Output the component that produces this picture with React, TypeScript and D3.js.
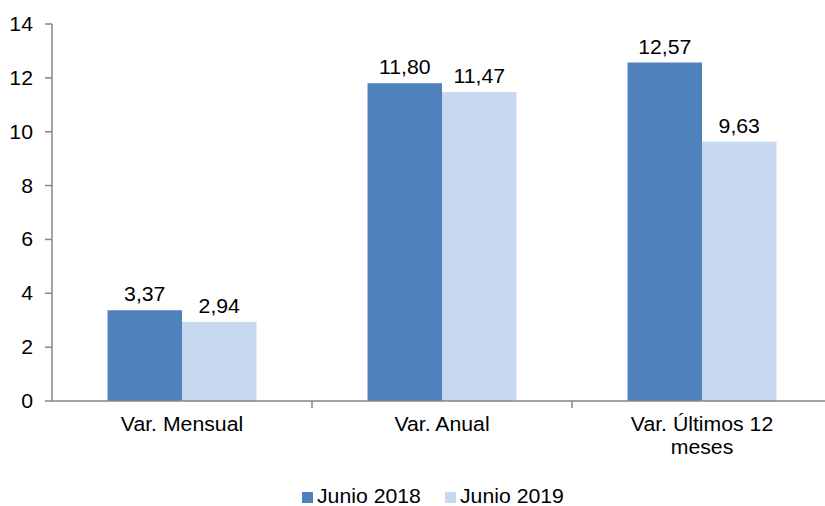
import React from 'react';
import * as d3 from 'd3';

// data
const categories = ['Var. Mensual', 'Var. Anual', 'Var. Últimos 12 meses'];
const categoryLines = [['Var. Mensual'], ['Var. Anual'], ['Var. Últimos 12', 'meses']];
const series = ['Junio 2018', 'Junio 2019'];
const junio2018 = [3.37, 11.8, 12.57];
const junio2019 = [2.94, 11.47, 9.63];
const yTicks = [0, 2, 4, 6, 8, 10, 12, 14];
const colors = ['#4F81BD', '#C6D9F1'];

const W = 825, H = 506;
const margin = { top: 24, left: 52, bottom: 105 };
const font = 'Liberation Sans, Arial, sans-serif';
const FS = 19.5;

// text slightly stretched horizontally like the original export
const T = ({ x, y, anchor = 'middle', children }: any) => (
  <text transform={`translate(${x},${y}) scale(1.09,1)`} textAnchor={anchor} fontSize={FS} fill="#000">{children}</text>
);

const App = () => {
  const x = d3.scaleBand().domain(categories).range([margin.left, margin.left + 780]).paddingInner(0).paddingOuter(0);
  const y = d3.scaleLinear().domain([0, 14]).range([H - margin.bottom, margin.top]);
  const xs = d3.scaleBand().domain(series).range([0, x.bandwidth()]).paddingInner(0).paddingOuter(0.745);
  const values = [junio2018, junio2019];
  const fmt = (v: number) => v.toFixed(2).replace('.', ',');
  const axisColor = '#868686';

  return (
    <svg width={W} height={H} style={{ position: 'absolute', left: 0, top: 0 }} fontFamily={font}>
      <rect width={W} height={H} fill="#fff" />
      {/* bars */}
      {series.map((s, si) =>
        categories.map((c, ci) => {
          const v = values[si][ci];
          const bx = (x(c) as number) + (xs(s) as number);
          return (
            <g key={s + c}>
              <rect x={bx} y={y(v)} width={xs.bandwidth()} height={y(0) - y(v)} fill={colors[si]} />
              <T x={bx + xs.bandwidth() / 2} y={y(v) - 9}>{fmt(v)}</T>
            </g>
          );
        })
      )}
      {/* y axis */}
      <line x1={margin.left} x2={margin.left} y1={y(14)} y2={y(0)} stroke={axisColor} strokeWidth={1.5} />
      {yTicks.map(t => (
        <g key={t}>
          <line x1={margin.left - 7} x2={margin.left} y1={y(t)} y2={y(t)} stroke={axisColor} strokeWidth={1.5} />
          <T x={33} y={y(t) + 7} anchor="end">{t}</T>
        </g>
      ))}
      {/* x axis */}
      <line x1={margin.left} x2={W} y1={y(0)} y2={y(0)} stroke={axisColor} strokeWidth={1.5} />
      {categories.map((c, i) => (
        <g key={c}>
          {i > 0 && <line x1={x(c)} x2={x(c)} y1={y(0)} y2={y(0) + 7} stroke={axisColor} strokeWidth={1.5} />}
          {categoryLines[i].map((ln, li) => (
            <T key={ln} x={(x(c) as number) + x.bandwidth() / 2} y={431 + li * 23}>{ln}</T>
          ))}
        </g>
      ))}
      {/* legend */}
      {series.map((s, i) => {
        const lx = 302 + i * 143;
        return (
          <g key={s}>
            <rect x={lx} y={492} width={11} height={11} fill={colors[i]} />
            <T x={lx + 15} y={503} anchor="start">{s}</T>
          </g>
        );
      })}
    </svg>
  );
};

export default App;
